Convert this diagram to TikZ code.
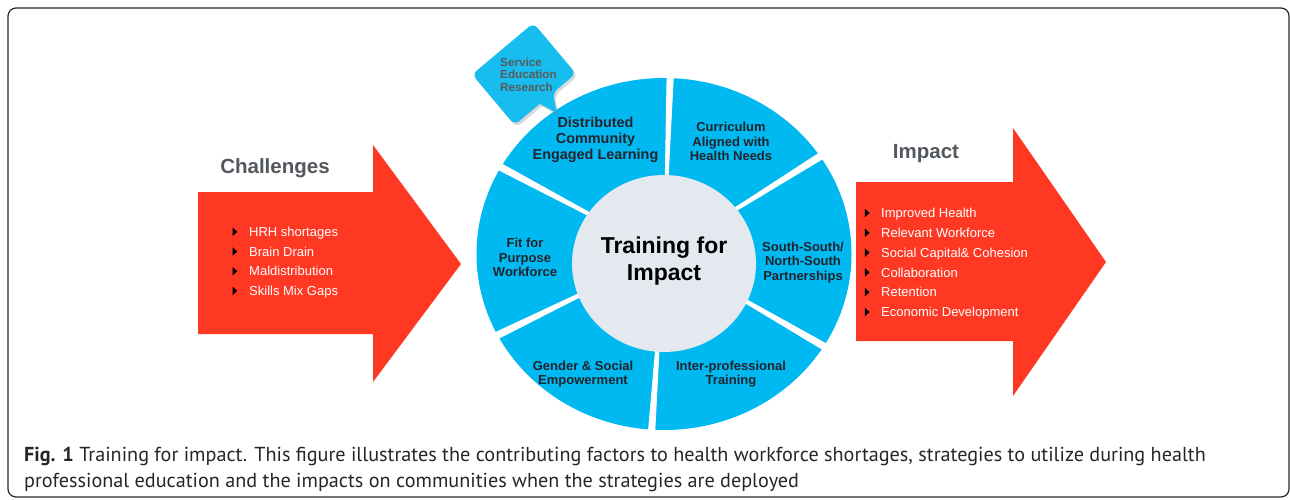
\documentclass[tikz,border=0pt]{standalone}
\usepackage{fontspec}
\setmainfont{Liberation Sans}
\newfontfamily\capfont{PT Sans}
\usetikzlibrary{calc,shadows}

\definecolor{arrowred}{RGB}{255,56,35}
\definecolor{segblue}{RGB}{0,185,240}
\definecolor{bubbleblue}{RGB}{22,189,238}
\definecolor{hubgray}{RGB}{227,233,238}
\definecolor{titlegray}{RGB}{83,88,94}
\definecolor{segtext}{RGB}{35,35,45}
\definecolor{bubbletext}{RGB}{90,90,92}
\definecolor{framegray}{RGB}{40,40,40}

\begin{document}
\begin{tikzpicture}[x=1pt,y=1pt,
  seglabel/.style={font=\fontsize{13}{14.6}\selectfont\bfseries, text=segtext, align=center, inner sep=0},
  item/.style={font=\fontsize{13}{15}\selectfont, text=white, anchor=base west, inner sep=0},
  headline/.style={font=\fontsize{20.5}{24}\selectfont\bfseries, text=titlegray, inner sep=0},
  captext/.style={font=\capfont\fontsize{20.2}{24}\selectfont, text=black!85, anchor=base west, inner sep=0}]
\useasboundingbox (0,0) rectangle (1290,-500);
\draw[rounded corners=8, line width=1.2, draw=framegray] (8,-8) rectangle (1289,-497);
% big arrows
\fill[arrowred] (198,-192) -- (373,-192) -- (373,-145) -- (461,-264) -- (373,-382) -- (373,-334) -- (198,-334) -- cycle;
\fill[arrowred] (856,-182) -- (1013,-182) -- (1013,-128) -- (1106,-262) -- (1013,-396) -- (1013,-341) -- (856,-341) -- cycle;
\node[headline] (L) at (275,-168) {Challenges};
\node[headline] (R) at (926,-153.5) {Impact};
\foreach \t [count=\i] in {HRH shortages, Brain Drain, Maldistribution, Skills Mix Gaps}{
  \node[item] (c\i) at (249,{-236.5-19.7*(\i-1)}) {\t};
  \fill ($(c\i.base west)+(-16.5,9)$) -- ++(0,-8.6) -- ++(4.8,4.3) -- cycle;
}
\foreach \t [count=\i] in {Improved Health, Relevant Workforce, Social Capital\& Cohesion, Collaboration, Retention, Economic Development}{
  \node[item] (m\i) at (881,{-217.7-19.8*(\i-1)}) {\t};
  \fill ($(m\i.base west)+(-16.2,9)$) -- ++(0,-8.6) -- ++(4.8,4.3) -- cycle;
}
% wheel
\def\rx{187.5}
\def\ry{176}
\path (664,-254) coordinate (O) (664,-263.5) coordinate (H);
\fill[segblue] (O) ellipse [x radius=\rx, y radius=\ry];
\foreach \a in {88,152,206,266,330,32}
  \filldraw[white, line width=1] (O) -- ($(O)+(\a-1:205)$) -- ($(O)+(\a+1:205)$) -- cycle;
\fill[hubgray] (H) ellipse [x radius=92, y radius=88.5];
\node[font=\fontsize{23}{27}\selectfont\bfseries, align=center, inner sep=0] (T) at (664,-261) {Training for\\Impact};
\node[seglabel, font=\fontsize{14.4}{16}\selectfont\bfseries] (D) at (595.5,-140) {Distributed\\Community\\Engaged Learning};
\node[seglabel] (C) at (731,-141.5) {Curriculum\\Aligned with\\Health Needs};
\node[seglabel] (S) at (803,-262.5) {South-South/\\North-South\\Partnerships};
\node[seglabel] (I) at (731,-374) {Inter-professional\\Training};
\node[seglabel] (G) at (583,-374) {Gender \& Social\\Empowerment};
\node[seglabel] (F) at (525,-257.5) {Fit for\\Purpose\\Workforce};
% callout
\begin{scope}[shift={(524,-74)}, rotate=40]
  \fill[bubbleblue, rounded corners=6, drop shadow={opacity=0.3, shadow xshift=2pt, shadow yshift=-2.5pt}]
    (-40,33) -- (40,33) -- (40,-33) -- (10,-33) [rounded corners=1] -- (0,-51) -- (-7,-33) [rounded corners=6] -- (-40,-33) -- cycle;
\end{scope}
\node[font=\fontsize{11.7}{12.6}\selectfont\bfseries, text=bubbletext, align=left, anchor=west, inner sep=0] (B) at (500,-74.5) {Service\\Education\\Research};
% caption
\node[captext] (K1) at (24,-461) {\textbf{Fig. 1} Training for impact. This figure illustrates the contributing factors to health workforce shortages, strategies to utilize during health};
\node[captext] (K2) at (24,-487) {professional education and the impacts on communities when the strategies are deployed};
\end{tikzpicture}
\end{document}
